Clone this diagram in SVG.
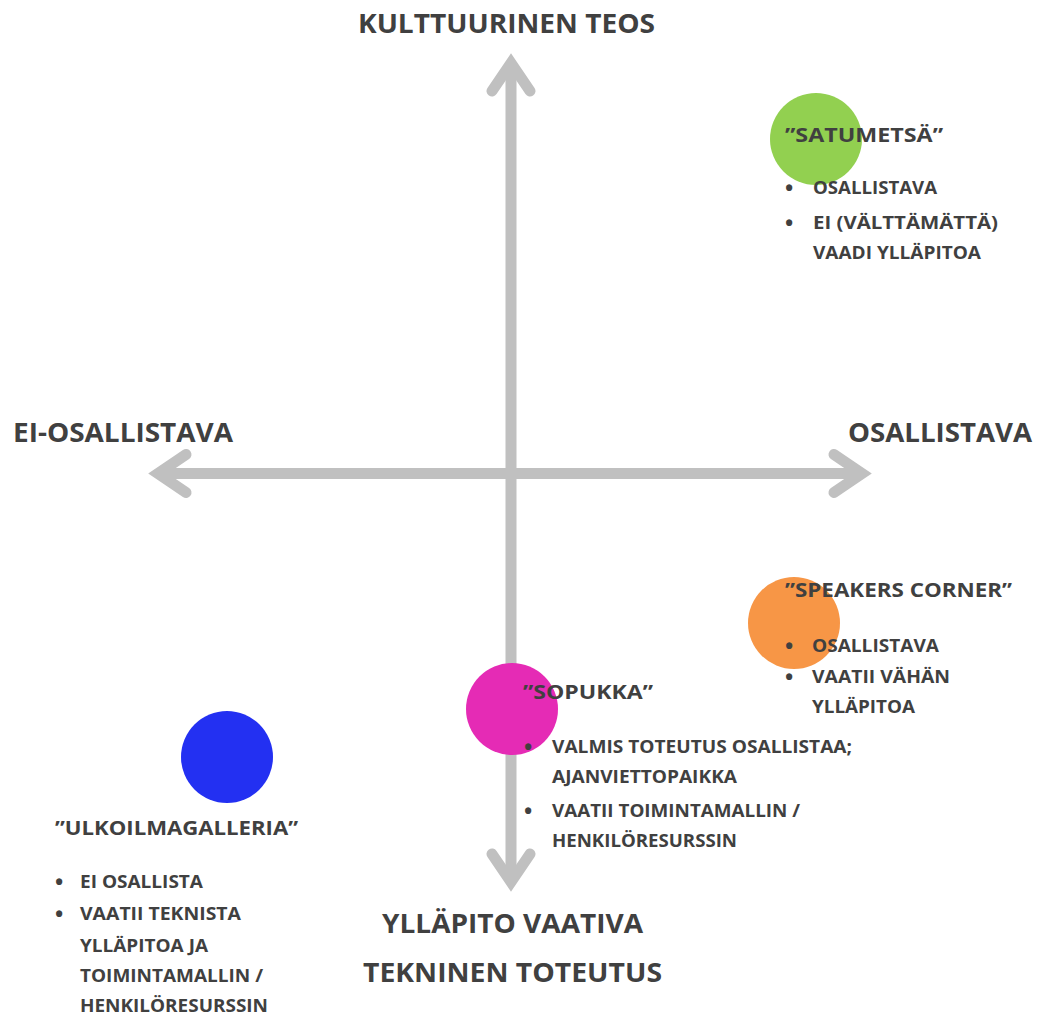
<svg xmlns="http://www.w3.org/2000/svg" width="1042" height="1016" viewBox="0 0 1042 1016">
<style>
text{font-family:"Open Sans","Liberation Sans",sans-serif;font-weight:700;fill:#404040}
.ax{font-size:26px}
.tt{font-size:20px}
.b{font-size:17px}
.d{font-size:22px}
.axis{stroke:#c0c0c0;stroke-width:11;fill:none}
</style>
<defs>
<marker id="chev" markerUnits="userSpaceOnUse" markerWidth="60" markerHeight="60" refX="0" refY="0" viewBox="-40 -30 60 60" orient="auto-start-reverse" overflow="visible">
<path d="M-28,-19 L0,0 L-28,19" fill="none" stroke="#c0c0c0" stroke-width="11" stroke-linecap="round" stroke-linejoin="miter"/>
</marker>
</defs>
<rect width="1042" height="1016" fill="#ffffff"/>
<g id="connectors">
<line class="axis" x1="511" y1="63" x2="511" y2="882" marker-start="url(#chev)" marker-end="url(#chev)"/>
<line class="axis" x1="158" y1="473.5" x2="862" y2="473.5" marker-start="url(#chev)" marker-end="url(#chev)"/>
</g>
<g id="axis-labels">
<text class="ax" x="358" y="33" textLength="297" lengthAdjust="spacingAndGlyphs">KULTTUURINEN TEOS</text>
<text class="ax" x="13" y="442" textLength="220" lengthAdjust="spacingAndGlyphs">EI-OSALLISTAVA</text>
<text class="ax" x="848" y="442" textLength="184" lengthAdjust="spacingAndGlyphs">OSALLISTAVA</text>
<text class="ax" x="382" y="933" textLength="261" lengthAdjust="spacingAndGlyphs">YLLÄPITO VAATIVA</text>
<text class="ax" x="363" y="982" textLength="299" lengthAdjust="spacingAndGlyphs">TEKNINEN TOTEUTUS</text>
</g>
<g id="satumetsa">
<circle cx="816" cy="139" r="46" fill="#92d050"/>
<text class="tt" x="785" y="142" textLength="158" lengthAdjust="spacingAndGlyphs">”SATUMETSÄ”</text>
<text class="d" x="785" y="196">•</text>
<text class="b" x="813" y="194" textLength="124" lengthAdjust="spacingAndGlyphs">OSALLISTAVA</text>
<text class="d" x="785" y="231">•</text>
<text class="b" x="813" y="229" textLength="185" lengthAdjust="spacingAndGlyphs">EI (VÄLTTÄMÄTTÄ)</text>
<text class="b" x="813" y="259" textLength="168" lengthAdjust="spacingAndGlyphs">VAADI YLLÄPITOA</text>
</g>
<g id="speakers-corner">
<circle cx="794" cy="623" r="46" fill="#f79646"/>
<text class="tt" x="785" y="597" textLength="227" lengthAdjust="spacingAndGlyphs">”SPEAKERS CORNER”</text>
<text class="d" x="785" y="654">•</text>
<text class="b" x="812" y="652" textLength="127" lengthAdjust="spacingAndGlyphs">OSALLISTAVA</text>
<text class="d" x="785" y="685">•</text>
<text class="b" x="812" y="683" textLength="138" lengthAdjust="spacingAndGlyphs">VAATII VÄHÄN</text>
<text class="b" x="812" y="713" textLength="103" lengthAdjust="spacingAndGlyphs">YLLÄPITOA</text>
</g>
<g id="sopukka">
<circle cx="512" cy="709" r="46" fill="#e52bb5"/>
<text class="tt" x="523" y="699" textLength="130" lengthAdjust="spacingAndGlyphs">”SOPUKKA”</text>
<text class="d" x="524" y="755">•</text>
<text class="b" x="552" y="753" textLength="300" lengthAdjust="spacingAndGlyphs">VALMIS TOTEUTUS OSALLISTAA;</text>
<text class="b" x="552" y="783" textLength="185" lengthAdjust="spacingAndGlyphs">AJANVIETTOPAIKKA</text>
<text class="d" x="524" y="819">•</text>
<text class="b" x="552" y="817" textLength="248" lengthAdjust="spacingAndGlyphs">VAATII TOIMINTAMALLIN /</text>
<text class="b" x="552" y="847" textLength="185" lengthAdjust="spacingAndGlyphs">HENKILÖRESURSSIN</text>
</g>
<g id="ulkoilmagalleria">
<circle cx="227" cy="757" r="46" fill="#2330f2"/>
<text class="tt" x="55" y="835" textLength="243" lengthAdjust="spacingAndGlyphs">”ULKOILMAGALLERIA”</text>
<text class="d" x="55" y="890">•</text>
<text class="b" x="80" y="888" textLength="123" lengthAdjust="spacingAndGlyphs">EI OSALLISTA</text>
<text class="d" x="55" y="922">•</text>
<text class="b" x="80" y="920" textLength="161" lengthAdjust="spacingAndGlyphs">VAATII TEKNISTA</text>
<text class="b" x="80" y="952" textLength="128" lengthAdjust="spacingAndGlyphs">YLLÄPITOA JA</text>
<text class="b" x="80" y="982" textLength="183" lengthAdjust="spacingAndGlyphs">TOIMINTAMALLIN /</text>
<text class="b" x="80" y="1012" textLength="188" lengthAdjust="spacingAndGlyphs">HENKILÖRESURSSIN</text>
</g>
</svg>
